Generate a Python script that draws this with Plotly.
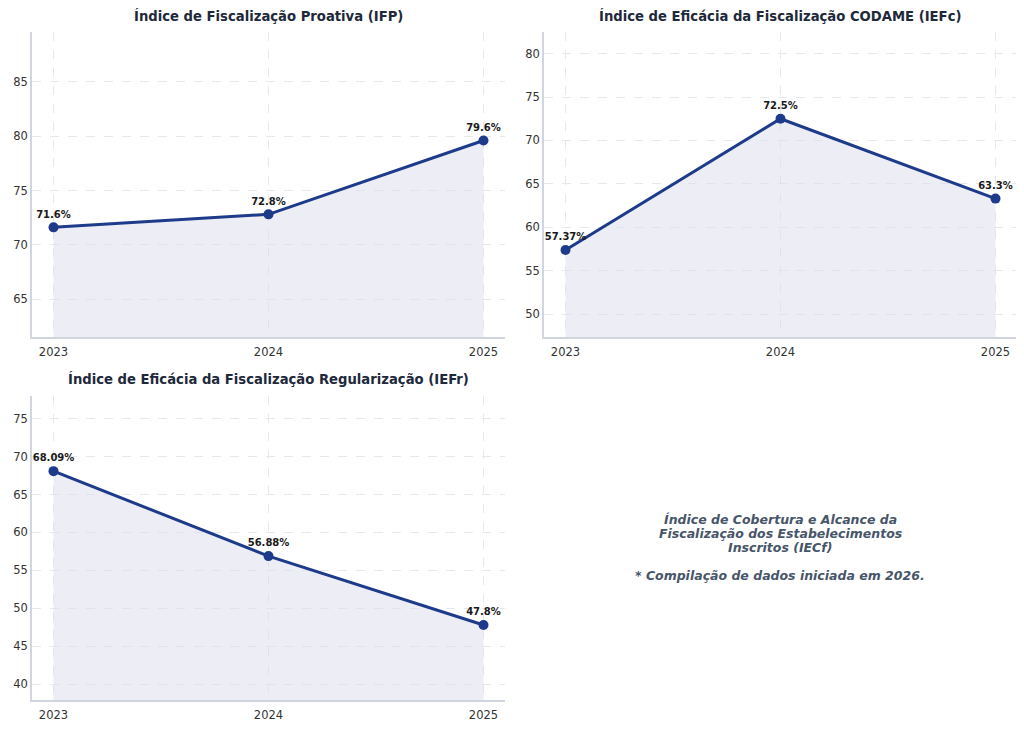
import plotly.graph_objects as go

# Data
anos = [2023, 2024, 2025]
ifp = [71.6, 72.8, 79.6]
iefc = [57.37, 72.5, 63.3]
iefr = [68.09, 56.88, 47.8]

ifp_labels = ["71.6%", "72.8%", "79.6%"]
iefc_labels = ["57.37%", "72.5%", "63.3%"]
iefr_labels = ["68.09%", "56.88%", "47.8%"]

titulos = [
    "Índice de Fiscalização Proativa (IFP)",
    "Índice de Eficácia da Fiscalização CODAME (IEFc)",
    "Índice de Eficácia da Fiscalização Regularização (IEFr)",
]

nota_linhas = [
    "Índice de Cobertura e Alcance da",
    "Fiscalização dos Estabelecimentos",
    "Inscritos (IECf)",
    "* Compilação de dados iniciada em 2026.",
]

LINE = "#1e3a8a"
FILL = "rgba(220,223,236,0.55)"
GRID = "#e6e8ec"
SPINE = "#d0d5e0"
FONT = "DejaVu Sans"

# page body has an 8px margin, so the figure is a bit smaller than the window
W, H = 1016, 721

fig = go.Figure()

paineis = [
    (ifp, ifp_labels, "x", "y"),
    (iefc, iefc_labels, "x2", "y2"),
    (iefr, iefr_labels, "x3", "y3"),
]

for valores, rotulos, xa, ya in paineis:
    fig.add_trace(go.Scatter(
        x=anos, y=valores, xaxis=xa, yaxis=ya,
        mode="lines+markers+text",
        line=dict(color=LINE, width=3),
        marker=dict(color=LINE, size=10),
        fill="tozeroy", fillcolor=FILL,
        text=rotulos, textposition="top center",
        texttemplate="<b>%{text}</b>",
        textfont=dict(family=FONT, size=10, color="#1a1a1a"),
        showlegend=False, cliponaxis=False,
    ))


def px(sx):
    return (sx - 8) / W


def py(sy):
    return 1 - (sy - 8) / H


dom_x = [[px(32), px(505)], [px(544), px(1017)], [px(32), px(505)]]
dom_y = [[py(337), py(32)], [py(337), py(32)], [py(700), py(396)]]
ranges = [[61.5, 89.6], [47.35, 82.5], [37.9, 78.0]]

common_x = dict(
    range=[2022.9, 2025.1], tickvals=anos, ticktext=[str(a) for a in anos],
    showgrid=True, gridcolor=GRID, griddash="dash", gridwidth=1,
    showline=True, linecolor=SPINE, linewidth=1.5, zeroline=False,
    ticks="outside", ticklen=3, tickcolor="white",
    tickfont=dict(family=FONT, size=11.5, color="#333333"),
)
common_y = dict(
    dtick=5, showgrid=True, gridcolor=GRID, griddash="dash", gridwidth=1,
    showline=True, linecolor=SPINE, linewidth=1.5, zeroline=False,
    ticks="", tickfont=dict(family=FONT, size=11.5, color="#333333"),
)

layout_axes = {}
for i in range(3):
    sx = "" if i == 0 else str(i + 1)
    layout_axes["xaxis" + sx] = dict(common_x, domain=dom_x[i], anchor="y" + sx)
    layout_axes["yaxis" + sx] = dict(common_y, domain=dom_y[i], range=ranges[i], anchor="x" + sx)

anotacoes = []
title_pos = [(px(268), py(16)), (px(780), py(16)), (px(268), py(379))]
for t, (tx, ty) in zip(titulos, title_pos):
    anotacoes.append(dict(
        text="<b>" + t + "</b>", x=tx, y=ty, xref="paper", yref="paper",
        showarrow=False, xanchor="center", yanchor="middle",
        font=dict(family=FONT, size=13.2, color="#1e293b"),
    ))

for linha, sy in zip(nota_linhas, [519, 533, 547, 575]):
    anotacoes.append(dict(
        text="<b><i>" + linha + "</i></b>",
        x=px(780), y=py(sy), xref="paper", yref="paper", showarrow=False,
        xanchor="center", yanchor="middle", align="center",
        font=dict(family=FONT, size=12.5, color="#475569"),
    ))

fig.update_layout(
    width=W, height=H,
    margin=dict(l=0, r=0, t=0, b=0),
    paper_bgcolor="white", plot_bgcolor="white",
    font=dict(family=FONT),
    annotations=anotacoes,
    **layout_axes,
)

fig.write_html("out.html")
